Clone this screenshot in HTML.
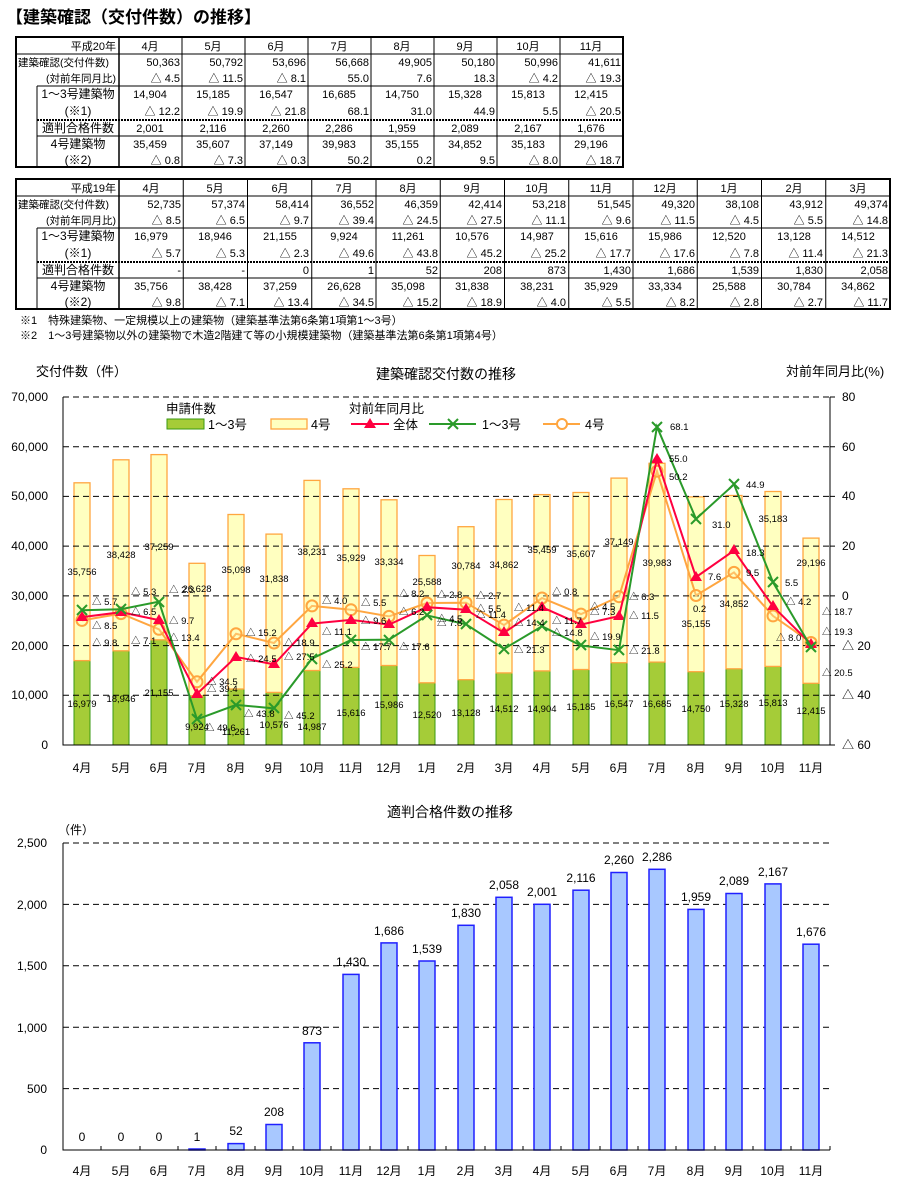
<!DOCTYPE html>
<html><head><meta charset="utf-8"><style>
html,body{margin:0;padding:0;background:#fff;}
svg{display:block;font-family:"Liberation Sans","Noto Sans CJK JP",sans-serif;}
</style></head><body>
<svg width="900" height="1183" viewBox="0 0 900 1183" xmlns="http://www.w3.org/2000/svg">
<text x="6" y="23" font-size="17" font-weight="bold">【建築確認（交付件数）の推移】</text>

<!-- TABLE 1 -->
<g stroke="#000" fill="none">
<rect x="16" y="37" width="607" height="130" stroke-width="2"/>
<line x1="16" y1="54" x2="623" y2="54"/>
<line x1="37" y1="86" x2="623" y2="86"/>
<line x1="37" y1="120" x2="623" y2="120" stroke-dasharray="2,1" stroke-width="2"/>
<line x1="37" y1="136" x2="623" y2="136"/>
<line x1="37" y1="86" x2="37" y2="167"/>
<line x1="119" y1="37" x2="119" y2="167" stroke-width="1.5"/>
<line x1="182" y1="37" x2="182" y2="167"/><line x1="245" y1="37" x2="245" y2="167"/>
<line x1="308" y1="37" x2="308" y2="167"/><line x1="371" y1="37" x2="371" y2="167"/>
<line x1="434" y1="37" x2="434" y2="167"/><line x1="497" y1="37" x2="497" y2="167"/>
<line x1="560" y1="37" x2="560" y2="167"/>
</g>
<g font-size="11" fill="#000">
<text x="116" y="50" text-anchor="end">平成20年</text>
<text x="18" y="66" font-size="10.5">建築確認(交付件数)</text>
<text x="116" y="82" text-anchor="end" font-size="10.5">(対前年同月比)</text>
<text x="78" y="98" text-anchor="middle" font-size="12">1～3号建築物</text>
<text x="78" y="115" text-anchor="middle" font-size="12">(※1)</text>
<text x="78" y="132" text-anchor="middle" font-size="12">適判合格件数</text>
<text x="78" y="148" text-anchor="middle" font-size="12">4号建築物</text>
<text x="78" y="164" text-anchor="middle" font-size="12">(※2)</text>
<g text-anchor="middle">
<text x="150" y="50">4月</text><text x="213" y="50">5月</text><text x="276" y="50">6月</text><text x="339" y="50">7月</text><text x="402" y="50">8月</text><text x="465" y="50">9月</text><text x="528" y="50">10月</text><text x="591" y="50">11月</text>
<text x="150" y="98">14,904</text><text x="213" y="98">15,185</text><text x="276" y="98">16,547</text><text x="339" y="98">16,685</text><text x="402" y="98">14,750</text><text x="465" y="98">15,328</text><text x="528" y="98">15,813</text><text x="591" y="98">12,415</text>
<text x="150" y="132">2,001</text><text x="213" y="132">2,116</text><text x="276" y="132">2,260</text><text x="339" y="132">2,286</text><text x="402" y="132">1,959</text><text x="465" y="132">2,089</text><text x="528" y="132">2,167</text><text x="591" y="132">1,676</text>
<text x="150" y="148">35,459</text><text x="213" y="148">35,607</text><text x="276" y="148">37,149</text><text x="339" y="148">39,983</text><text x="402" y="148">35,155</text><text x="465" y="148">34,852</text><text x="528" y="148">35,183</text><text x="591" y="148">29,196</text>
</g>
<g text-anchor="end">
<text x="180" y="66">50,363</text><text x="243" y="66">50,792</text><text x="306" y="66">53,696</text><text x="369" y="66">56,668</text><text x="432" y="66">49,905</text><text x="495" y="66">50,180</text><text x="558" y="66">50,996</text><text x="621" y="66">41,611</text>
<text x="180" y="82">△ 4.5</text><text x="243" y="82">△ 11.5</text><text x="306" y="82">△ 8.1</text><text x="369" y="82">55.0</text><text x="432" y="82">7.6</text><text x="495" y="82">18.3</text><text x="558" y="82">△ 4.2</text><text x="621" y="82">△ 19.3</text>
<text x="180" y="115">△ 12.2</text><text x="243" y="115">△ 19.9</text><text x="306" y="115">△ 21.8</text><text x="369" y="115">68.1</text><text x="432" y="115">31.0</text><text x="495" y="115">44.9</text><text x="558" y="115">5.5</text><text x="621" y="115">△ 20.5</text>
<text x="180" y="164">△ 0.8</text><text x="243" y="164">△ 7.3</text><text x="306" y="164">△ 0.3</text><text x="369" y="164">50.2</text><text x="432" y="164">0.2</text><text x="495" y="164">9.5</text><text x="558" y="164">△ 8.0</text><text x="621" y="164">△ 18.7</text>
</g>
</g>

<!-- TABLE 2 -->
<g stroke="#000" fill="none">
<rect x="16" y="179" width="874" height="130" stroke-width="2"/>
<line x1="16" y1="196" x2="890" y2="196"/>
<line x1="37" y1="228" x2="890" y2="228"/>
<line x1="37" y1="262" x2="890" y2="262" stroke-dasharray="2,1" stroke-width="2"/>
<line x1="37" y1="278" x2="890" y2="278"/>
<line x1="37" y1="228" x2="37" y2="309"/>
<line x1="119" y1="179" x2="119" y2="309" stroke-width="1.5"/>
<line x1="183.25" y1="179" x2="183.25" y2="309"/><line x1="247.5" y1="179" x2="247.5" y2="309"/>
<line x1="311.75" y1="179" x2="311.75" y2="309"/><line x1="376" y1="179" x2="376" y2="309"/>
<line x1="440.25" y1="179" x2="440.25" y2="309"/><line x1="504.5" y1="179" x2="504.5" y2="309"/>
<line x1="568.75" y1="179" x2="568.75" y2="309"/><line x1="633" y1="179" x2="633" y2="309"/>
<line x1="697.25" y1="179" x2="697.25" y2="309"/><line x1="761.5" y1="179" x2="761.5" y2="309"/>
<line x1="825.75" y1="179" x2="825.75" y2="309"/>
</g>
<g font-size="11" fill="#000">
<text x="116" y="192" text-anchor="end">平成19年</text>
<text x="18" y="208" font-size="10.5">建築確認(交付件数)</text>
<text x="116" y="224" text-anchor="end" font-size="10.5">(対前年同月比)</text>
<text x="78" y="240" text-anchor="middle" font-size="12">1～3号建築物</text>
<text x="78" y="257" text-anchor="middle" font-size="12">(※1)</text>
<text x="78" y="274" text-anchor="middle" font-size="12">適判合格件数</text>
<text x="78" y="290" text-anchor="middle" font-size="12">4号建築物</text>
<text x="78" y="306" text-anchor="middle" font-size="12">(※2)</text>
<g text-anchor="middle">
<text x="151" y="192">4月</text><text x="215" y="192">5月</text><text x="280" y="192">6月</text><text x="344" y="192">7月</text><text x="408" y="192">8月</text><text x="472" y="192">9月</text><text x="537" y="192">10月</text><text x="601" y="192">11月</text><text x="665" y="192">12月</text><text x="729" y="192">1月</text><text x="794" y="192">2月</text><text x="858" y="192">3月</text>
<text x="151" y="240">16,979</text><text x="215" y="240">18,946</text><text x="280" y="240">21,155</text><text x="344" y="240">9,924</text><text x="408" y="240">11,261</text><text x="472" y="240">10,576</text><text x="537" y="240">14,987</text><text x="601" y="240">15,616</text><text x="665" y="240">15,986</text><text x="729" y="240">12,520</text><text x="794" y="240">13,128</text><text x="858" y="240">14,512</text>
<text x="151" y="290">35,756</text><text x="215" y="290">38,428</text><text x="280" y="290">37,259</text><text x="344" y="290">26,628</text><text x="408" y="290">35,098</text><text x="472" y="290">31,838</text><text x="537" y="290">38,231</text><text x="601" y="290">35,929</text><text x="665" y="290">33,334</text><text x="729" y="290">25,588</text><text x="794" y="290">30,784</text><text x="858" y="290">34,862</text>
</g>
<g text-anchor="end">
<text x="181" y="208">52,735</text><text x="245" y="208">57,374</text><text x="309" y="208">58,414</text><text x="374" y="208">36,552</text><text x="438" y="208">46,359</text><text x="502" y="208">42,414</text><text x="566" y="208">53,218</text><text x="631" y="208">51,545</text><text x="695" y="208">49,320</text><text x="759" y="208">38,108</text><text x="823" y="208">43,912</text><text x="888" y="208">49,374</text>
<text x="181" y="224">△ 8.5</text><text x="245" y="224">△ 6.5</text><text x="309" y="224">△ 9.7</text><text x="374" y="224">△ 39.4</text><text x="438" y="224">△ 24.5</text><text x="502" y="224">△ 27.5</text><text x="566" y="224">△ 11.1</text><text x="631" y="224">△ 9.6</text><text x="695" y="224">△ 11.5</text><text x="759" y="224">△ 4.5</text><text x="823" y="224">△ 5.5</text><text x="888" y="224">△ 14.8</text>
<text x="181" y="257">△ 5.7</text><text x="245" y="257">△ 5.3</text><text x="309" y="257">△ 2.3</text><text x="374" y="257">△ 49.6</text><text x="438" y="257">△ 43.8</text><text x="502" y="257">△ 45.2</text><text x="566" y="257">△ 25.2</text><text x="631" y="257">△ 17.7</text><text x="695" y="257">△ 17.6</text><text x="759" y="257">△ 7.8</text><text x="823" y="257">△ 11.4</text><text x="888" y="257">△ 21.3</text>
<text x="181" y="274">-</text><text x="245" y="274">-</text><text x="309" y="274">0</text><text x="374" y="274">1</text><text x="438" y="274">52</text><text x="502" y="274">208</text><text x="566" y="274">873</text><text x="631" y="274">1,430</text><text x="695" y="274">1,686</text><text x="759" y="274">1,539</text><text x="823" y="274">1,830</text><text x="888" y="274">2,058</text>
<text x="181" y="306">△ 9.8</text><text x="245" y="306">△ 7.1</text><text x="309" y="306">△ 13.4</text><text x="374" y="306">△ 34.5</text><text x="438" y="306">△ 15.2</text><text x="502" y="306">△ 18.9</text><text x="566" y="306">△ 4.0</text><text x="631" y="306">△ 5.5</text><text x="695" y="306">△ 8.2</text><text x="759" y="306">△ 2.8</text><text x="823" y="306">△ 2.7</text><text x="888" y="306">△ 11.7</text>
</g>
<text x="20" y="324" font-size="11">※1　特殊建築物、一定規模以上の建築物（建築基準法第6条第1項第1～3号）</text>
<text x="20" y="339" font-size="11">※2　1～3号建築物以外の建築物で木造2階建て等の小規模建築物（建築基準法第6条第1項第4号）</text>
</g>

<!-- CHART 1 -->
<g font-size="13" fill="#000">
<text x="36" y="376">交付件数（件）</text>
<text x="446" y="379" text-anchor="middle" font-size="14">建築確認交付数の推移</text>
<text x="786" y="376">対前年同月比(%)</text>
</g>
<g font-size="12" text-anchor="end">
<text x="48" y="401">70,000</text><text x="48" y="451">60,000</text><text x="48" y="500">50,000</text><text x="48" y="550">40,000</text><text x="48" y="600">30,000</text><text x="48" y="650">20,000</text><text x="48" y="699">10,000</text><text x="48" y="749">0</text>
</g>
<g font-size="12">
<text x="842" y="401">80</text><text x="842" y="451">60</text><text x="842" y="500">40</text><text x="842" y="550">20</text><text x="842" y="600">0</text><text x="842" y="650">△ 20</text><text x="842" y="699">△ 40</text><text x="842" y="749">△ 60</text>
</g>
<!-- bars 1-3 -->
<g fill="#a5cc38" stroke="#3a9a10" stroke-width="1">
<rect x="74" y="660.6" width="16" height="84.4"/><rect x="113" y="650.8" width="16" height="94.2"/><rect x="151" y="639.8" width="16" height="105.2"/><rect x="189" y="695.7" width="16" height="49.3"/><rect x="228" y="689" width="16" height="56"/><rect x="266" y="692.4" width="16" height="52.6"/><rect x="304" y="670.5" width="16" height="74.5"/><rect x="343" y="667.4" width="16" height="77.6"/><rect x="381" y="665.5" width="16" height="79.5"/><rect x="419" y="682.8" width="16" height="62.2"/><rect x="458" y="679.7" width="16" height="65.3"/><rect x="496" y="672.9" width="16" height="72.1"/><rect x="534" y="670.9" width="16" height="74.1"/><rect x="573" y="669.5" width="16" height="75.5"/><rect x="611" y="662.7" width="16" height="82.3"/><rect x="649" y="662.1" width="16" height="82.9"/><rect x="688" y="671.7" width="16" height="73.3"/><rect x="726" y="668.8" width="16" height="76.2"/><rect x="765" y="666.4" width="16" height="78.6"/><rect x="803" y="683.3" width="16" height="61.7"/>
</g>
<g fill="#ffffc0" stroke="#ffa640" stroke-width="1.3">
<rect x="74" y="482.8" width="16" height="177.8"/><rect x="113" y="459.8" width="16" height="191"/><rect x="151" y="454.6" width="16" height="185.2"/><rect x="189" y="563.3" width="16" height="132.4"/><rect x="228" y="514.5" width="16" height="174.5"/><rect x="266" y="534.1" width="16" height="158.3"/><rect x="304" y="480.4" width="16" height="190.1"/><rect x="343" y="488.8" width="16" height="178.6"/><rect x="381" y="499.8" width="16" height="165.7"/><rect x="419" y="555.5" width="16" height="127.3"/><rect x="458" y="526.7" width="16" height="153"/><rect x="496" y="499.5" width="16" height="173.4"/><rect x="534" y="494.6" width="16" height="176.3"/><rect x="573" y="492.5" width="16" height="177"/><rect x="611" y="478.1" width="16" height="184.6"/><rect x="649" y="463.3" width="16" height="198.8"/><rect x="688" y="496.9" width="16" height="174.8"/><rect x="726" y="495.5" width="16" height="173.3"/><rect x="765" y="491.5" width="16" height="174.9"/><rect x="803" y="538.1" width="16" height="145.2"/>
</g>
<g stroke="#000" stroke-dasharray="6,4" stroke-width="1">
<line x1="63" y1="397" x2="830" y2="397"/><line x1="63" y1="446.7" x2="830" y2="446.7"/><line x1="63" y1="496.4" x2="830" y2="496.4"/><line x1="63" y1="546.1" x2="830" y2="546.1"/><line x1="63" y1="595.9" x2="830" y2="595.9"/><line x1="63" y1="645.6" x2="830" y2="645.6"/><line x1="63" y1="695.3" x2="830" y2="695.3"/>
</g>
<g stroke="#000" fill="none">
<polyline points="63,397 63,745 830,745 830,397"/>
<path d="M830 397h5M830 446.7h5M830 496.4h5M830 546.1h5M830 595.9h5M830 645.6h5M830 695.3h5M830 745h5"/>
</g>
<!-- lines -->
<polyline fill="none" stroke="#ffa640" stroke-width="2" points="82,620.4 121,613.6 159,629.3 197,681.8 236,633.8 274,643 312,605.9 351,609.7 389,616.4 427,603 466,602.7 504,625.1 542,598 581,614.1 619,596.7 657,471.2 696,595.5 734,572.4 773,615.9 811,642.5"/>
<g fill="#ffffc0" fill-opacity="0.3" stroke="#ffa640" stroke-width="2">
<circle cx="82" cy="620.4" r="5.5"/><circle cx="121" cy="613.6" r="5.5"/><circle cx="159" cy="629.3" r="5.5"/><circle cx="197" cy="681.8" r="5.5"/><circle cx="236" cy="633.8" r="5.5"/><circle cx="274" cy="643" r="5.5"/><circle cx="312" cy="605.9" r="5.5"/><circle cx="351" cy="609.7" r="5.5"/><circle cx="389" cy="616.4" r="5.5"/><circle cx="427" cy="603" r="5.5"/><circle cx="466" cy="602.7" r="5.5"/><circle cx="504" cy="625.1" r="5.5"/><circle cx="542" cy="598" r="5.5"/><circle cx="581" cy="614.1" r="5.5"/><circle cx="619" cy="596.7" r="5.5"/><circle cx="657" cy="471.2" r="5.5"/><circle cx="696" cy="595.5" r="5.5"/><circle cx="734" cy="572.4" r="5.5"/><circle cx="773" cy="615.9" r="5.5"/><circle cx="811" cy="642.5" r="5.5"/>
</g>
<polyline fill="none" stroke="#ff0040" stroke-width="2" points="82,617.1 121,612.2 159,620.1 197,693.9 236,656.9 274,664.4 312,623.6 351,619.9 389,624.6 427,607.2 466,609.7 504,632.8 542,607.2 581,624.6 619,616.1 657,459.3 696,577.1 734,550.5 773,606.4 811,644"/>
<g fill="#ff0040">
<path d="M82 611l6 10h-12z"/><path d="M121 606l6 10h-12z"/><path d="M159 614l6 10h-12z"/><path d="M197 688l6 10h-12z"/><path d="M236 651l6 10h-12z"/><path d="M274 658l6 10h-12z"/><path d="M312 617l6 10h-12z"/><path d="M351 614l6 10h-12z"/><path d="M389 618l6 10h-12z"/><path d="M427 601l6 10h-12z"/><path d="M466 603l6 10h-12z"/><path d="M504 626l6 10h-12z"/><path d="M542 601l6 10h-12z"/><path d="M581 618l6 10h-12z"/><path d="M619 610l6 10h-12z"/><path d="M657 453l6 10h-12z"/><path d="M696 571l6 10h-12z"/><path d="M734 544l6 10h-12z"/><path d="M773 600l6 10h-12z"/><path d="M811 638l6 10h-12z"/>
</g>
<polyline fill="none" stroke="#2a9a2a" stroke-width="2" points="82,610.2 121,609.2 159,601.7 197,719.3 236,704.9 274,708.4 312,658.6 351,640 389,639.7 427,615.4 466,624.3 504,648.9 542,626.3 581,645.5 619,650.2 657,426.7 696,518.9 734,484.4 773,582.3 811,647"/>
<g stroke="#2a9a2a" stroke-width="2">
<path d="M77 605l10 10M87 605l-10 10"/><path d="M116 604l10 10M126 604l-10 10"/><path d="M154 597l10 10M164 597l-10 10"/><path d="M192 714l10 10M202 714l-10 10"/><path d="M231 700l10 10M241 700l-10 10"/><path d="M269 703l10 10M279 703l-10 10"/><path d="M307 654l10 10M317 654l-10 10"/><path d="M346 635l10 10M356 635l-10 10"/><path d="M384 635l10 10M394 635l-10 10"/><path d="M422 610l10 10M432 610l-10 10"/><path d="M461 619l10 10M471 619l-10 10"/><path d="M499 644l10 10M509 644l-10 10"/><path d="M537 621l10 10M547 621l-10 10"/><path d="M576 640l10 10M586 640l-10 10"/><path d="M614 645l10 10M624 645l-10 10"/><path d="M652 422l10 10M662 422l-10 10"/><path d="M691 514l10 10M701 514l-10 10"/><path d="M729 479l10 10M739 479l-10 10"/><path d="M768 577l10 10M778 577l-10 10"/><path d="M806 642l10 10M816 642l-10 10"/>
</g>
<!-- bar value labels -->
<g font-size="9.5" text-anchor="middle" fill="#000">
<text x="82" y="707">16,979</text><text x="121" y="702">18,946</text><text x="159" y="696">21,155</text><text x="197" y="730">9,924</text><text x="236" y="735">11,261</text><text x="274" y="728">10,576</text><text x="312" y="730">14,987</text><text x="351" y="716">15,616</text><text x="389" y="708">15,986</text><text x="427" y="718">12,520</text><text x="466" y="716">13,128</text><text x="504" y="712">14,512</text><text x="542" y="712">14,904</text><text x="581" y="710">15,185</text><text x="619" y="707">16,547</text><text x="657" y="707">16,685</text><text x="696" y="712">14,750</text><text x="734" y="707">15,328</text><text x="773" y="706">15,813</text><text x="811" y="714">12,415</text>
<text x="82" y="575">35,756</text><text x="121" y="558">38,428</text><text x="159" y="550">37,259</text><text x="197" y="592">26,628</text><text x="236" y="573">35,098</text><text x="274" y="582">31,838</text><text x="312" y="555">38,231</text><text x="351" y="561">35,929</text><text x="389" y="565">33,334</text><text x="427" y="585">25,588</text><text x="466" y="569">30,784</text><text x="504" y="568">34,862</text><text x="542" y="553">35,459</text><text x="581" y="557">35,607</text><text x="619" y="545">37,149</text><text x="657" y="566">39,983</text><text x="696" y="627">35,155</text><text x="734" y="607">34,852</text><text x="773" y="522">35,183</text><text x="811" y="566">29,196</text>
</g>
<!-- ratio labels -->
<g font-size="9.5" fill="#000">
<text x="92" y="605">△ 5.7</text><text x="131" y="595">△ 5.3</text><text x="169" y="593">△ 2.3</text><text x="205" y="731">△ 49.6</text><text x="244" y="717">△ 43.8</text><text x="284" y="719">△ 45.2</text><text x="322" y="668">△ 25.2</text><text x="361" y="650">△ 17.7</text><text x="399" y="650">△ 17.6</text><text x="437" y="626">△ 7.8</text><text x="476" y="618">△ 11.4</text><text x="514" y="653">△ 21.3</text><text x="552" y="636">△ 14.8</text><text x="590" y="640">△ 19.9</text><text x="629" y="654">△ 21.8</text><text x="670" y="430">68.1</text><text x="712" y="528">31.0</text><text x="746" y="488">44.9</text><text x="785" y="586">5.5</text><text x="822" y="676">△ 20.5</text>
<text x="92" y="629">△ 8.5</text><text x="131" y="615">△ 6.5</text><text x="169" y="624">△ 9.7</text><text x="207" y="692">△ 39.4</text><text x="246" y="662">△ 24.5</text><text x="284" y="660">△ 27.5</text><text x="322" y="635">△ 11.1</text><text x="361" y="624">△ 9.6</text><text x="399" y="597">△ 8.2</text><text x="437" y="622">△ 4.5</text><text x="476" y="612">△ 5.5</text><text x="514" y="611">△ 11.4</text><text x="552" y="624">△ 11.7</text><text x="590" y="610">△ 4.5</text><text x="629" y="619">△ 11.5</text><text x="669" y="462">55.0</text><text x="708" y="580">7.6</text><text x="746" y="556">18.3</text><text x="786" y="605">△ 4.2</text><text x="822" y="635">△ 19.3</text>
<text x="92" y="646">△ 9.8</text><text x="131" y="644">△ 7.1</text><text x="169" y="641">△ 13.4</text><text x="207" y="685">△ 34.5</text><text x="246" y="636">△ 15.2</text><text x="284" y="646">△ 18.9</text><text x="322" y="604">△ 4.0</text><text x="361" y="606">△ 5.5</text><text x="399" y="615">△ 6.2</text><text x="437" y="598">△ 2.8</text><text x="476" y="599">△ 2.7</text><text x="514" y="626">△ 14.4</text><text x="552" y="595">△ 0.8</text><text x="590" y="615">△ 7.3</text><text x="629" y="600">△ 6.3</text><text x="669" y="480">50.2</text><text x="693" y="612">0.2</text><text x="746" y="576">9.5</text><text x="776" y="641">△ 8.0</text><text x="822" y="615">△ 18.7</text>
</g>
<!-- legend -->
<g font-size="12.5" fill="#000">
<text x="166" y="413">申請件数</text>
<text x="349" y="413">対前年同月比</text>
<rect x="167" y="419" width="37" height="10" fill="#a5cc38" stroke="#3a9a10"/>
<text x="208" y="429">1～3号</text>
<rect x="271" y="419" width="36" height="10" fill="#ffffc0" stroke="#ffa640" stroke-width="1.3"/>
<text x="311" y="429">4号</text>
<line x1="351" y1="424" x2="389" y2="424" stroke="#ff0040" stroke-width="2"/><path d="M370 418l6 10h-12z" fill="#ff0040"/>
<text x="393" y="429">全体</text>
<line x1="429" y1="424" x2="476" y2="424" stroke="#2a9a2a" stroke-width="2"/><path d="M448 419l10 10M458 419l-10 10" stroke="#2a9a2a" stroke-width="2"/>
<text x="482" y="429">1～3号</text>
<line x1="543" y1="424" x2="580" y2="424" stroke="#ffa640" stroke-width="2"/><circle cx="562" cy="424" r="5" fill="#fff" stroke="#ffa640" stroke-width="2"/>
<text x="585" y="429">4号</text>
</g>
<g font-size="12" text-anchor="middle">
<text x="82" y="772">4月</text><text x="121" y="772">5月</text><text x="159" y="772">6月</text><text x="197" y="772">7月</text><text x="236" y="772">8月</text><text x="274" y="772">9月</text><text x="312" y="772">10月</text><text x="351" y="772">11月</text><text x="389" y="772">12月</text><text x="427" y="772">1月</text><text x="466" y="772">2月</text><text x="504" y="772">3月</text><text x="542" y="772">4月</text><text x="581" y="772">5月</text><text x="619" y="772">6月</text><text x="657" y="772">7月</text><text x="696" y="772">8月</text><text x="734" y="772">9月</text><text x="773" y="772">10月</text><text x="811" y="772">11月</text>
</g>

<!-- CHART 2 -->
<text x="450" y="817" font-size="14" text-anchor="middle">適判合格件数の推移</text>
<text x="58" y="834" font-size="12">（件）</text>
<g font-size="12" text-anchor="end">
<text x="47" y="847">2,500</text><text x="47" y="909">2,000</text><text x="47" y="970">1,500</text><text x="47" y="1032">1,000</text><text x="47" y="1093">500</text><text x="47" y="1154">0</text>
</g>
<g stroke="#000" stroke-dasharray="6,4">
<line x1="63" y1="843" x2="830" y2="843"/><line x1="63" y1="904.4" x2="830" y2="904.4"/><line x1="63" y1="965.8" x2="830" y2="965.8"/><line x1="63" y1="1027.2" x2="830" y2="1027.2"/><line x1="63" y1="1088.6" x2="830" y2="1088.6"/>
</g>
<g fill="#a8c8ff" stroke="#2020ff" stroke-width="1.5">
<rect x="189" y="1149" width="16" height="1"/><rect x="228" y="1143.6" width="16" height="6.4"/><rect x="266" y="1124.5" width="16" height="25.5"/><rect x="304" y="1042.8" width="16" height="107.2"/><rect x="343" y="974.4" width="16" height="175.6"/><rect x="381" y="942.9" width="16" height="207.1"/><rect x="419" y="961" width="16" height="189"/><rect x="458" y="925.3" width="16" height="224.7"/><rect x="496" y="897.3" width="16" height="252.7"/><rect x="534" y="904.3" width="16" height="245.7"/><rect x="573" y="890.2" width="16" height="259.8"/><rect x="611" y="872.5" width="16" height="277.5"/><rect x="649" y="869.3" width="16" height="280.7"/><rect x="688" y="909.4" width="16" height="240.6"/><rect x="726" y="893.5" width="16" height="256.5"/><rect x="765" y="883.9" width="16" height="266.1"/><rect x="803" y="944.2" width="16" height="205.8"/>
</g>
<g stroke="#000" fill="none">
<polyline points="63,843 63,1150 830,1150"/>
<path d="M101 1150v-4M140 1150v-4M178 1150v-4M216 1150v-4M255 1150v-4M293 1150v-4M331 1150v-4M370 1150v-4M408 1150v-4M446 1150v-4M485 1150v-4M523 1150v-4M561 1150v-4M600 1150v-4M638 1150v-4M676 1150v-4M715 1150v-4M753 1150v-4M791 1150v-4M830 1150v-4"/>
</g>
<g font-size="12" text-anchor="middle">
<text x="82" y="1141">0</text><text x="121" y="1141">0</text><text x="159" y="1141">0</text><text x="197" y="1141">1</text><text x="236" y="1135">52</text><text x="274" y="1116">208</text><text x="312" y="1035">873</text><text x="351" y="966">1,430</text><text x="389" y="935">1,686</text><text x="427" y="953">1,539</text><text x="466" y="917">1,830</text><text x="504" y="889">2,058</text><text x="542" y="896">2,001</text><text x="581" y="882">2,116</text><text x="619" y="864">2,260</text><text x="657" y="861">2,286</text><text x="696" y="901">1,959</text><text x="734" y="885">2,089</text><text x="773" y="876">2,167</text><text x="811" y="936">1,676</text>
</g>
<g font-size="12" text-anchor="middle">
<text x="82" y="1175">4月</text><text x="121" y="1175">5月</text><text x="159" y="1175">6月</text><text x="197" y="1175">7月</text><text x="236" y="1175">8月</text><text x="274" y="1175">9月</text><text x="312" y="1175">10月</text><text x="351" y="1175">11月</text><text x="389" y="1175">12月</text><text x="427" y="1175">1月</text><text x="466" y="1175">2月</text><text x="504" y="1175">3月</text><text x="542" y="1175">4月</text><text x="581" y="1175">5月</text><text x="619" y="1175">6月</text><text x="657" y="1175">7月</text><text x="696" y="1175">8月</text><text x="734" y="1175">9月</text><text x="773" y="1175">10月</text><text x="811" y="1175">11月</text>
</g>
</svg>
</body></html>
